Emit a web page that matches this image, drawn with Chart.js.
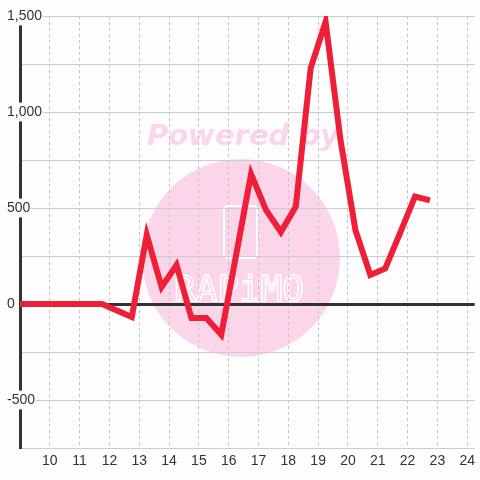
<!DOCTYPE html>
<html lang="en">
<head>
    <meta charset="UTF-8">
    <title>Hourly Chart</title>
    <script src="https://cdn.jsdelivr.net/npm/chart.js"></script>
    <style>
        body {
            margin: 0;
            padding: 0;
            background: #fdfdfd;
        }
        .chart-box {
            width: 480px;
            height: 480px;
        }
    </style>
</head>
<body>
    <div class="chart-box">
        <canvas id="hourChart" width="480" height="480"></canvas>
    </div>

    <script>
        // half-hour readings (hour of day -> value)
        const hours = [8.75, 9.25, 9.75, 10.25, 10.75, 11.25, 11.75, 12.25, 12.75, 13.25, 13.75, 14.25, 14.75,
            15.25, 15.75, 16.25, 16.75, 17.25, 17.75, 18.25, 18.75, 19.25, 19.75, 20.25, 20.75, 21.25, 21.75, 22.25, 22.75];
        const values = [0, 0, 0, 0, 0, 0, 0, -34, -68, 360, 88, 203, -73,
            -73, -160, 256, 677, 490, 375, 508, 1229, 1470, 854, 385, 151, 185, 370, 560, 540];
        const hourTicks = [9, 10, 11, 12, 13, 14, 15, 16, 17, 18, 19, 20, 21, 22, 23, 24];
        const valueTicks = [-750, -500, -250, 0, 250, 500, 750, 1000, 1250, 1500];

        // pink "Powered by" badge behind the plot
        const watermark = {
            id: 'watermark',
            beforeDraw(chart) {
                const ctx = chart.ctx;
                ctx.save();
                ctx.fillStyle = '#fbd5ea';
                ctx.beginPath();
                ctx.arc(241, 258, 99, 0, Math.PI * 2);
                ctx.fill();

                ctx.font = 'italic bold 29px "DejaVu Sans"';
                ctx.textAlign = 'center';
                ctx.textBaseline = 'alphabetic';
                ctx.fillText('Powered by', 243, 145);

                ctx.strokeStyle = '#ffffff';
                ctx.lineWidth = 2;
                ctx.beginPath();
                ctx.roundRect(224, 206, 33, 52, 4);
                ctx.stroke();
                ctx.font = '36px "DejaVu Sans Mono"';
                ctx.lineWidth = 1.5;
                ctx.strokeText('RAPiMO', 239, 301);
                ctx.restore();
            }
        };

        const points = hours.map((h, i) => ({ x: h, y: values[i] }));

        new Chart(document.getElementById('hourChart'), {
            type: 'line',
            data: {
                datasets: [{
                    data: points,
                    borderColor: '#ee1f36',
                    borderWidth: 6,
                    pointRadius: 0,
                    tension: 0,
                    borderJoinStyle: 'miter'
                }]
            },
            options: {
                responsive: false,
                animation: false,
                layout: { padding: { top: 16, left: 0, right: 0, bottom: 0 } },
                plugins: {
                    legend: { display: false },
                    tooltip: { enabled: false }
                },
                scales: {
                    x: {
                        type: 'linear',
                        min: 9,
                        max: 24.25,
                        afterBuildTicks: scale => { scale.ticks = hourTicks.map(v => ({ value: v })); },
                        afterFit: scale => { scale.height = 32; },
                        grid: {
                            color: '#c4c4c4',
                            lineWidth: 1,
                            drawTicks: false
                        },
                        border: { display: false, dash: [3, 3] },
                        ticks: {
                            padding: 5,
                            color: '#333',
                            font: { family: 'Liberation Sans', size: 14 },
                            maxRotation: 0,
                            autoSkip: false,
                            callback: v => (v === 9 ? '' : String(v))
                        }
                    },
                    y: {
                        min: -750,
                        max: 1500,
                        afterBuildTicks: scale => { scale.ticks = valueTicks.map(v => ({ value: v })); },
                        afterFit: scale => { scale.width = 20; },
                        grid: {
                            color: ctx => (ctx.tick && ctx.tick.value === 0 ? '#333' : '#cccccc'),
                            lineWidth: ctx => (ctx.tick && ctx.tick.value === 0 ? 3 : 1),
                            drawTicks: false
                        },
                        border: { color: '#333', width: 3 },
                        ticks: {
                            mirror: true,
                            padding: -13,
                            color: '#333',
                            font: { family: 'Liberation Sans', size: 14 },
                            showLabelBackdrop: true,
                            backdropColor: ctx => (ctx.tick && ctx.tick.value % 500 === 0 ? '#fdfdfd' : 'rgba(0,0,0,0)'),
                            backdropPadding: 1,
                            autoSkip: false,
                            callback: v => (v % 500 === 0 ? v.toLocaleString('en-US') : '')
                        }
                    }
                }
            },
            plugins: [watermark]
        });
    </script>
</body>
</html>
